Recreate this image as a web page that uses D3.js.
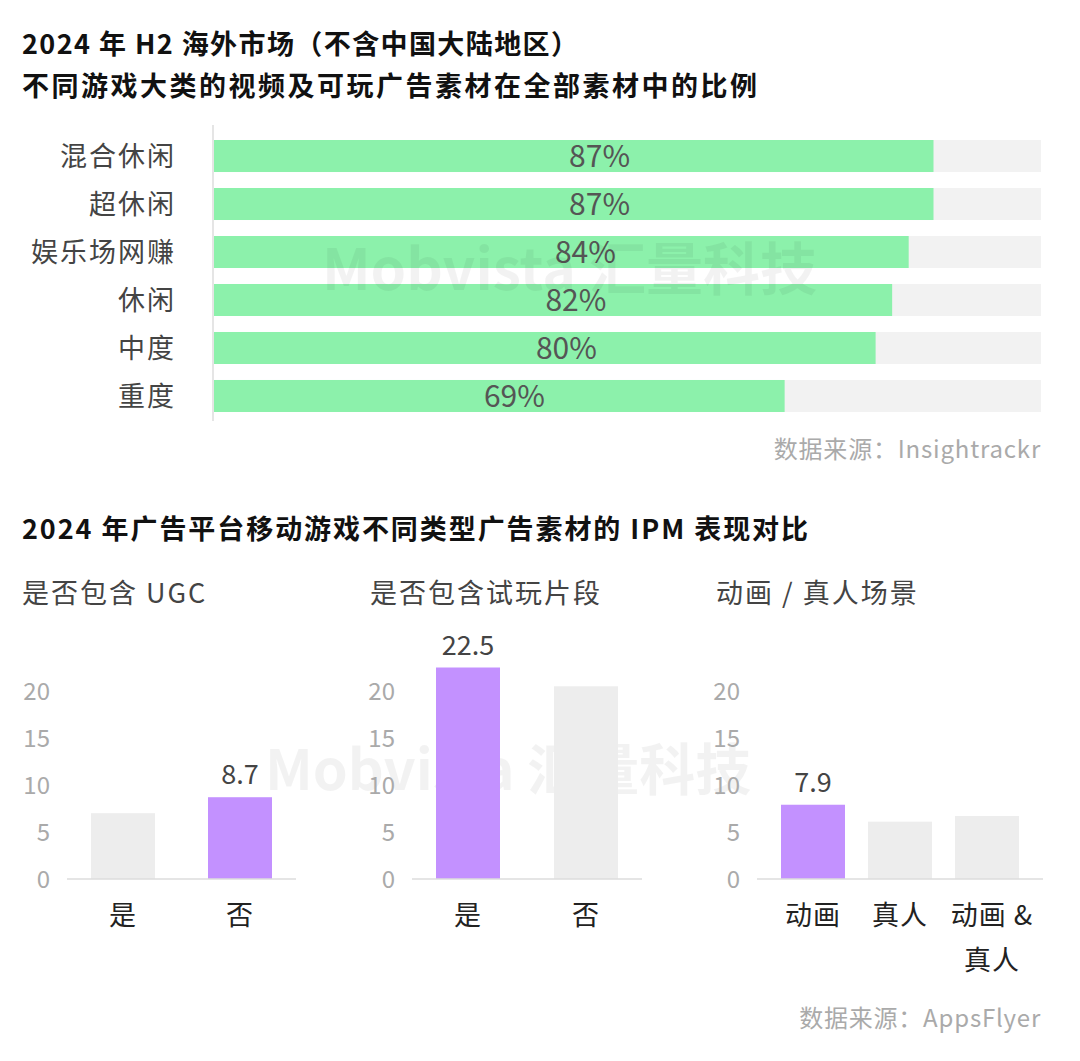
<!DOCTYPE html>
<html><head><meta charset="utf-8">
<script src="https://cdn.jsdelivr.net/npm/d3@7/dist/d3.min.js"></script>
<style>
body{margin:0;background:#fff;}
svg text{font-family:"Noto Sans CJK SC","Noto Sans",sans-serif;}
</style></head>
<body><svg id="c" width="1080" height="1061"></svg>
<script>
// ---- data ----
const topTitle1 = "2024 年 H2 海外市场（不含中国大陆地区）";
const topTitle2 = "不同游戏大类的视频及可玩广告素材在全部素材中的比例";
const genres = ["混合休闲","超休闲","娱乐场网赚","休闲","中度","重度"];
const shares = [87,87,84,82,80,69];
const topSource = "数据来源：Insightrackr";

const bottomTitle = "2024 年广告平台移动游戏不同类型广告素材的 IPM 表现对比";
const panelTitles = ["是否包含 UGC","是否包含试玩片段","动画 / 真人场景"];
const ugcCats = ["是","否"];
const ugcVals = [7.0, 8.7];
const playCats = ["是","否"];
const playVals = [22.5, 20.5];
const styleCats = ["动画","真人","动画 & 真人"];
const styleVals = [7.9, 6.1, 6.7];
const highlight = [[false,true],[true,false],[true,false,false]];
const yTicks = [0,5,10,15,20];
const bottomSource = "数据来源：AppsFlyer";

// ---- drawing ----
const svg = d3.select("#c");
const GREEN="#8cf1ab", PURPLE="#c391ff", LIGHT="#ededed", TRACK="#f2f2f2";

function watermark(x,y,size){
  svg.append("text").attr("x",x).attr("y",y).attr("font-size",size)
    .attr("font-weight",700).attr("fill","#000").attr("fill-opacity",0.05)
    .attr("font-family","Roboto, 'Noto Sans CJK SC'")
    .text("Mobvista 汇量科技");
}
function title(x,y,t,len){
  svg.append("text").attr("x",x).attr("y",y).attr("font-size",27)
    .attr("textLength",len).attr("lengthAdjust","spacing")
    .attr("font-weight",700).attr("fill","#111").text(t);
}

title(22,54,topTitle1,556);
title(22,96,topTitle2,735);

// top bar chart
const x = d3.scaleLinear().domain([0,100]).range([214,1041]);
const y = d3.scaleBand().domain(genres).range([140,412]).paddingInner(0.333);
const gTop = svg.append("g");
gTop.selectAll("rect.track").data(genres).join("rect")
  .attr("x",x(0)).attr("y",d=>y(d)).attr("width",x(100)-x(0)).attr("height",y.bandwidth()).attr("fill",TRACK);
gTop.selectAll("rect.bar").data(shares).join("rect")
  .attr("x",x(0)).attr("y",(d,i)=>y(genres[i])).attr("width",d=>x(d)-x(0)).attr("height",y.bandwidth()).attr("fill",GREEN);
gTop.selectAll("text.val").data(shares).join("text")
  .attr("x",d=>x(d*0.572)-26).attr("y",(d,i)=>y(genres[i])+y.bandwidth()/2)
  .attr("dy","0.36em").attr("text-anchor","middle").attr("font-size",30).attr("fill","#555")
  .text(d=>d+"%");
gTop.selectAll("text.cat").data(genres).join("text")
  .attr("x",176).attr("y",d=>y(d)+y.bandwidth()/2).attr("dy","0.36em")
  .attr("text-anchor","end").attr("font-size",27).attr("letter-spacing",2).attr("fill","#444").text(d=>d);
gTop.append("line").attr("x1",213).attr("x2",213).attr("y1",125).attr("y2",421).attr("stroke","#dcdcdc").attr("stroke-width",1.5);
watermark(322,290,57);
svg.append("text").attr("x",1041).attr("y",458).attr("text-anchor","end").attr("font-size",24).attr("letter-spacing",0.8).attr("fill","#aaa").text(topSource);

// bottom
title(22,539,bottomTitle,786);

const yb = d3.scaleLinear().domain([0,20]).range([879,691]);
const panels = [
  {cats:ugcCats, vals:ugcVals, x0:67, x1:296, tx:22, ty:50},
  {cats:playCats, vals:playVals, x0:412, x1:642, tx:370, ty:395},
  {cats:styleCats, vals:styleVals, x0:757, x1:1043, tx:716, ty:740}
];
const BW=64, OUT=24;
watermark(265,790,56);
panels.forEach((p,pi)=>{
  const g = svg.append("g");
  g.append("text").attr("x",p.tx).attr("y",603).attr("font-size",27).attr("letter-spacing",2).attr("fill","#444").text(panelTitles[pi]);
  const n = p.cats.length;
  const w = (p.x1-OUT)-(p.x0+OUT);
  const gap = (w-n*BW)/(n-1);
  const xb = d3.scaleBand().domain(p.cats).range([p.x0+OUT,p.x1-OUT]).paddingInner(gap/(BW+gap)).paddingOuter(0);
  g.selectAll("text.tick").data(yTicks).join("text")
    .attr("x",p.ty).attr("y",d=>yb(d)).attr("dy","0.36em").attr("text-anchor","end")
    .attr("font-size",24).attr("fill","#aaa").text(d=>d);
  g.selectAll("rect").data(p.vals).join("rect")
    .attr("x",(d,i)=>xb(p.cats[i])).attr("width",xb.bandwidth())
    .attr("y",d=>yb(d)).attr("height",d=>yb(0)-yb(d))
    .attr("fill",(d,i)=>highlight[pi][i]?PURPLE:LIGHT);
  g.append("line").attr("x1",p.x0).attr("x2",p.x1).attr("y1",yb(0)).attr("y2",yb(0)).attr("stroke","#dcdcdc").attr("stroke-width",1.5);
  g.selectAll("text.v").data(p.vals.map((v,i)=>({v,i})).filter(o=>highlight[pi][o.i])).join("text")
    .attr("x",o=>xb(p.cats[o.i])+xb.bandwidth()/2).attr("y",o=>yb(o.v)-13)
    .attr("text-anchor","middle").attr("font-size",27).attr("fill","#444").text(o=>o.v.toFixed(1));
  p.cats.forEach((c,i)=>{
    const cx = xb(c)+xb.bandwidth()/2;
    const lines = c.includes("&") ? [c.split(" ").slice(0,2).join(" "), c.split(" ").slice(2).join(" ")] : [c];
    lines.forEach((ln,li)=>{
      g.append("text").attr("x",cx+(lines.length>1?5:0)).attr("y",915+li*45).attr("dy","0.36em")
        .attr("text-anchor","middle").attr("font-size",27).attr("letter-spacing",1).attr("fill","#222").text(ln);
    });
  });
});
svg.append("text").attr("x",1041).attr("y",1027).attr("text-anchor","end").attr("font-size",24).attr("letter-spacing",0.8).attr("fill","#aaa").text(bottomSource);
</script></body></html>
